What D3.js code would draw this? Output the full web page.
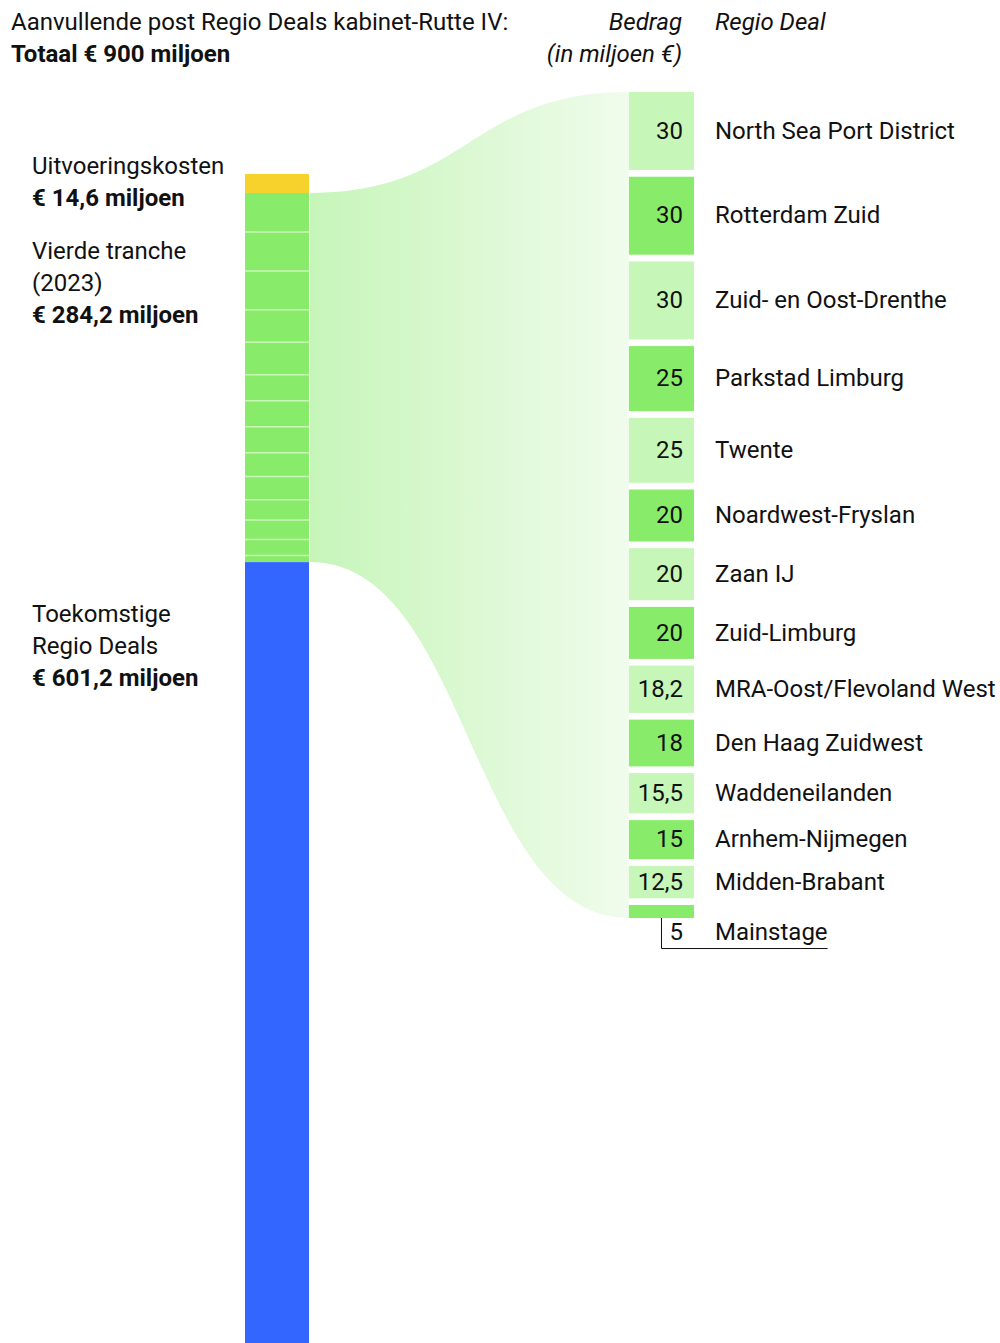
<!DOCTYPE html>
<html>
<head>
<meta charset="utf-8">
<script src="https://cdn.jsdelivr.net/npm/d3@7"></script>
<style>
  body { margin: 0; background: #fff; }
  svg text { font-family: Roboto, "Noto Sans", sans-serif; fill: #111; }
</style>
</head>
<body>
<script>
// Data
var deals = ["North Sea Port District", "Rotterdam Zuid", "Zuid- en Oost-Drenthe", "Parkstad Limburg",
  "Twente", "Noardwest-Fryslan", "Zaan IJ", "Zuid-Limburg", "MRA-Oost/Flevoland West",
  "Den Haag Zuidwest", "Waddeneilanden", "Arnhem-Nijmegen", "Midden-Brabant", "Mainstage"];
var amounts = [30, 30, 30, 25, 25, 20, 20, 20, 18.2, 18, 15.5, 15, 12.5, 5];
var parts = ["Uitvoeringskosten", "Vierde tranche", "Toekomstige"];
var partValues = [14.6, 284.2, 601.2];

var width = 1000, height = 1343, fs = 24;
var fmt = function(v) { return String(v).replace(".", ","); };

var svg = d3.select("body").append("svg")
    .attr("width", width).attr("height", height);

// Gradient for the flow
var defs = svg.append("defs");
var grad = defs.append("linearGradient").attr("id", "flow")
    .attr("x1", "0%").attr("x2", "100%").attr("y1", "0%").attr("y2", "0%");
grad.append("stop").attr("offset", "0%").attr("stop-color", "#c6f5b9");
grad.append("stop").attr("offset", "100%").attr("stop-color", "#f0fcec");

// Left stacked bar
var barX = 245, barW = 64;
var yLeft = d3.scaleLinear().domain([0, d3.sum(partValues)]).range([174, 1343]);
var partColors = ["#f7d22d", "#88ec6a", "#3366ff"];
var cum = 0;
var stacked = partValues.map(function(v, i) {
  var d = {y0: cum, y1: cum + v, color: partColors[i]};
  cum += v;
  return d;
});

// Right boxes
var boxX = 629, boxW = 65, gap = 6.7, topY = 92;
var hScale = d3.scaleLinear().domain([0, 30]).range([0, 78]);
var yy = topY;
var boxes = amounts.map(function(v, i) {
  var d = {name: deals[i], v: v, y: yy, h: hScale(v), i: i};
  yy += hScale(v) + gap;
  return d;
});
var last = boxes.length - 1;
var rightBottom = boxes[last].y + boxes[last].h;

// Flow band
var x0 = barX + barW + 1, x1 = boxX, mx = (x0 + x1) / 2;
var lt = yLeft(partValues[0]), lb = yLeft(partValues[0] + partValues[1]);
var path = d3.path();
path.moveTo(x0, lt);
path.bezierCurveTo(mx, lt, mx, topY, x1, topY);
path.lineTo(x1, rightBottom);
path.bezierCurveTo(mx, rightBottom, mx, lb, x0, lb);
path.closePath();
svg.append("path").attr("d", path.toString()).attr("fill", "url(#flow)");

svg.selectAll("rect.part").data(stacked).enter().append("rect")
    .attr("class", "part")
    .attr("x", barX).attr("width", barW)
    .attr("y", function(d) { return yLeft(d.y0); })
    .attr("height", function(d) { return yLeft(d.y1) - yLeft(d.y0); })
    .attr("fill", function(d) { return d.color; });

// Separators in the green part
var c = partValues[0];
var seps = [];
amounts.slice(0, -1).forEach(function(v) { c += v; seps.push(c); });
svg.selectAll("line.sep").data(seps).enter().append("line")
    .attr("x1", barX).attr("x2", barX + barW)
    .attr("y1", function(d) { return yLeft(d); })
    .attr("y2", function(d) { return yLeft(d); })
    .attr("stroke", "#c8f7b8").attr("stroke-width", 1.5);

svg.selectAll("rect.box").data(boxes).enter().append("rect")
    .attr("class", "box")
    .attr("x", boxX).attr("width", boxW)
    .attr("y", function(d) { return d.y; })
    .attr("height", function(d) { return d.h; })
    .attr("fill", function(d) { return d.i % 2 ? "#88ec6a" : "#c6f7b8"; });

var rows = svg.selectAll("g.row").data(boxes).enter().append("g").attr("class", "row")
    .attr("transform", function(d, i) {
      var cy = i === last ? d.y + d.h + 14 : d.y + d.h / 2;
      return "translate(0," + cy + ")";
    });
rows.append("text").attr("x", 683).attr("dy", "0.32em")
    .attr("text-anchor", "end").attr("font-size", fs)
    .text(function(d) { return fmt(d.v); });
var names = rows.append("text").attr("x", 715).attr("dy", "0.32em")
    .attr("font-size", fs)
    .text(function(d) { return d.name; });

// Bracket for Mainstage
var lastName = names.filter(function(d, i) { return i === last; }).node();
var lineEnd = 715 + lastName.getComputedTextLength();
var lastBox = boxes[last];
svg.append("path")
    .attr("d", "M661.5," + (lastBox.y + lastBox.h) + "V" + (lastBox.y + lastBox.h + 30.5) + "H" + lineEnd)
    .attr("fill", "none").attr("stroke", "#111").attr("stroke-width", 1);

// Titles
function lines(x, y, arr, opts) {
  var t = svg.append("text").attr("x", x).attr("y", y).attr("font-size", fs)
      .attr("text-anchor", opts && opts.anchor || "start")
      .attr("font-style", opts && opts.italic ? "italic" : null);
  arr.forEach(function(l, i) {
    t.append("tspan").attr("x", x).attr("dy", i ? 32 : 0)
        .attr("font-weight", l.bold ? "bold" : null).text(l.t);
  });
}
lines(11, 30, [{t: "Aanvullende post Regio Deals kabinet-Rutte IV:"}, {t: "Totaal € 900 miljoen", bold: true}]);
lines(682, 30, [{t: "Bedrag"}, {t: "(in miljoen €)"}], {anchor: "end", italic: true});
lines(715, 30, [{t: "Regio Deal"}], {italic: true});

lines(32, 174, [{t: parts[0]}, {t: "€ " + fmt(partValues[0]) + " miljoen", bold: true}]);
lines(32, 259, [{t: parts[1]}, {t: "(2023)"}, {t: "€ " + fmt(partValues[1]) + " miljoen", bold: true}]);
lines(32, 622, [{t: parts[2]}, {t: "Regio Deals"}, {t: "€ " + fmt(partValues[2]) + " miljoen", bold: true}]);
</script>
</body>
</html>
